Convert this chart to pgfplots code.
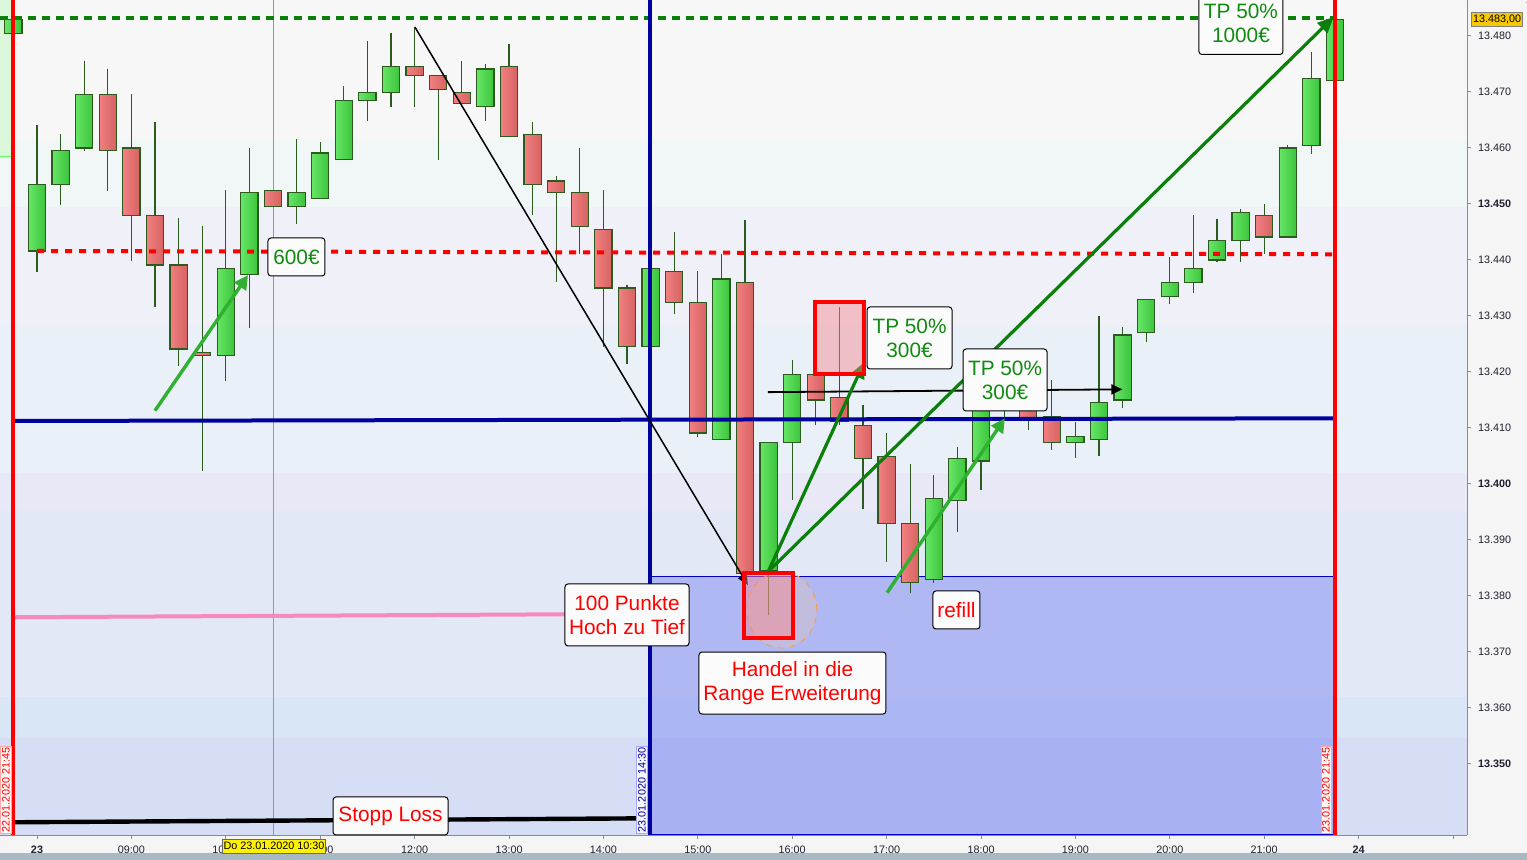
\documentclass[border=0pt]{standalone}
\usepackage{pgfplots}
\pgfplotsset{compat=1.18}
\usepackage{pgfplotstable}
\usepgfplotslibrary{statistics}
\usetikzlibrary{arrows.meta}
\usepackage{fontspec}
\setmainfont{Liberation Sans}

\definecolor{pagebg}{HTML}{F5F5F5}
\definecolor{scrollbar}{HTML}{A9B9C1}
\definecolor{axisgray}{HTML}{7890A0}
\definecolor{ticktext}{HTML}{202030}
\definecolor{bgA}{HTML}{F7F7F8}
\definecolor{bgB}{HTML}{F0F7F6}
\definecolor{bgC}{HTML}{F0F0F8}
\definecolor{bgD}{HTML}{EAF0F8}
\definecolor{bgE}{HTML}{E8E8F6}
\definecolor{bgF}{HTML}{E2E8F6}
\definecolor{bgG}{HTML}{D9E6F6}
\definecolor{bgH}{HTML}{D6DEF6}
\definecolor{prevday}{HTML}{DAF7DA}
\definecolor{rangeblue}{HTML}{4C58F0}
\definecolor{candleedge}{HTML}{2D5A1E}
\definecolor{upL}{HTML}{66E666}
\definecolor{upR}{HTML}{3CC43C}
\definecolor{dnL}{HTML}{F28080}
\definecolor{dnR}{HTML}{D66262}
\definecolor{tpgreen}{HTML}{0A7F0A}
\definecolor{lightarrow}{HTML}{30B030}
\definecolor{navy}{HTML}{00009E}
\definecolor{pinkline}{HTML}{F888C0}
\definecolor{boxpink}{HTML}{F7858D}
\definecolor{cursor}{HTML}{7898E8}
\definecolor{notegreen}{HTML}{108A10}
\definecolor{gold}{HTML}{F8C800}

\pgfplotsset{
  candle/.style={draw=candleedge, line width=0.6pt, solid,
    boxplot/box extend=0.183, boxplot/whisker extend=0,
    boxplot/every median/.style={draw=none}},
  up body/.style={boxplot/every box/.style={left color=upL, right color=upR}},
  down body/.style={boxplot/every box/.style={left color=dnL, right color=dnR}},
}
\tikzset{
  note/.style={draw=black, line width=0.5pt, fill=white!97!gray, rounded corners=1.5pt,
    align=center, inner sep=0pt, font=\fontsize{10.4}{12}\selectfont},
  stamp/.style={rotate=90, inner sep=0.7pt, font=\fontsize{5.4}{6}\selectfont},
}

% 15-minute candles, time in hours
\pgfplotstableread{
t o h l c
7.75 13480.5 13483 13480.5 13483
8.00 13441.6 13464.1 13437.9 13453.5
8.25 13453.5 13462.5 13449.9 13459.6
8.50 13460 13475.5 13459.5 13469.6
10.00 13423 13452.5 13418.4 13438.5
10.25 13437.4 13460 13427.9 13452.1
10.75 13449.6 13461.6 13446.5 13452.1
11.00 13451 13461.1 13451 13459.1
11.25 13458 13471.1 13458 13468.5
11.50 13468.5 13479.1 13464.9 13469.9
11.75 13469.9 13480.5 13467.4 13474.6
12.75 13467.4 13475 13464.9 13474.1
14.50 13424.6 13438.5 13424.6 13438.5
15.25 13408 13441 13408 13436.6
15.75 13384.6 13407.4 13376.6 13407.4
16.00 13407.4 13422.1 13397.1 13419.6
17.50 13383 13401.6 13382.3 13397.4
17.75 13397.1 13406.6 13391.5 13404.6
18.00 13404.1 13418 13399 13416
18.25 13416 13421 13411.4 13419
19.00 13407.4 13411.1 13404.6 13408.5
19.25 13408 13430 13405 13414.6
19.50 13415 13428 13413.5 13426.6
19.75 13427.1 13433 13425.4 13433
20.00 13433.5 13440.5 13432.1 13436
20.25 13436 13448 13434.1 13438.5
20.50 13440 13447.4 13439.6 13443.5
20.75 13443.5 13449.1 13439.6 13448.5
21.25 13444.1 13460.5 13444.1 13460
21.50 13460.5 13477.1 13459 13472.4
21.75 13472.1 13483 13472.1 13483
}\upcandles

\pgfplotstableread{
t o h l c
8.75 13469.6 13474.1 13452.4 13459.6
9.00 13460 13469.6 13439.9 13448
9.25 13448 13464.6 13431.6 13439.1
9.50 13439.1 13447.5 13421 13424.1
9.75 13423.5 13446.1 13402.4 13423
10.50 13452.4 13452.5 13449.5 13449.6
12.00 13474.6 13481.6 13467.4 13473
12.25 13473 13473 13457.9 13470.5
12.50 13469.9 13475.5 13467.4 13468
13.00 13474.6 13478.6 13462.1 13462.1
13.25 13462.4 13464.6 13448 13453.5
13.50 13454.1 13455 13436 13452.1
13.75 13452.1 13460 13441 13446
14.00 13445.5 13452.5 13424.5 13435
14.25 13435 13435.5 13421.5 13424.6
14.75 13438 13445 13430.4 13432.4
15.00 13432.4 13438 13408.4 13409.1
15.50 13436 13447.1 13383 13384
16.25 13419.6 13419.6 13410.5 13415
16.50 13415.5 13431.6 13410.5 13411.1
16.75 13410.5 13414.1 13395.5 13404.6
17.00 13404.9 13409.1 13386 13393
17.25 13393 13403.5 13380.5 13382.4
18.50 13418 13420 13409.6 13411.7
18.75 13412.1 13418.6 13406 13407.4
21.00 13448 13450 13441 13444.1
}\downcandles

\begin{document}
\begin{tikzpicture}
\useasboundingbox (0,-12.5pt) rectangle (763.5pt,417.5pt);
\fill[pagebg] (0,-12.5pt) rectangle (763.5pt,417.5pt);
\fill[scrollbar] (0,-12.5pt) rectangle (763.5pt,-9pt);

\pgfplotstablegetrowsof{\upcandles}\pgfmathtruncatemacro\nup{\pgfplotsretval-1}
\pgfplotstablegetrowsof{\downcandles}\pgfmathtruncatemacro\ndown{\pgfplotsretval-1}

\begin{axis}[
  at={(0,0)}, anchor=south west,
  scale only axis, width=733.5pt, height=417.5pt,
  xmin=7.608, xmax=23.148, ymin=13337.32, ymax=13486.43,
  axis x line=bottom, axis y line=right,
  axis line style={draw=axisgray, line width=0.6pt, -},
  xtick={8,9,...,23},
  xticklabels={\textbf{23},09:00,10:00,11:00,12:00,13:00,14:00,15:00,16:00,17:00,18:00,19:00,20:00,21:00,\textbf{24},{}},
  ytick={13350,13360,...,13480},
  yticklabels={\textbf{13.350},13.360,13.370,13.380,13.390,\textbf{13.400},13.410,13.420,13.430,13.440,\textbf{13.450},13.460,13.470,13.480},
  tick align=outside, major tick length=2pt,
  tick style={draw=axisgray, line width=0.5pt},
  ticklabel style={font=\fontsize{5.4}{6}\selectfont, text=ticktext},
  clip=false,
  boxplot/draw direction=y,
]

% background bands
\addplot[draw=none, fill=bgA] coordinates {(7.608,13461.66) (23.148,13461.66) (23.148,13486.43) (7.608,13486.43)} -- cycle;
\addplot[draw=none, fill=bgB] coordinates {(7.608,13449.41) (23.148,13449.41) (23.148,13461.66) (7.608,13461.66)} -- cycle;
\addplot[draw=none, fill=bgC] coordinates {(7.608,13428.43) (23.148,13428.43) (23.148,13449.41) (7.608,13449.41)} -- cycle;
\addplot[draw=none, fill=bgD] coordinates {(7.608,13402.05) (23.148,13402.05) (23.148,13428.43) (7.608,13428.43)} -- cycle;
\addplot[draw=none, fill=bgE] coordinates {(7.608,13395.2) (23.148,13395.2) (23.148,13402.05) (7.608,13402.05)} -- cycle;
\addplot[draw=none, fill=bgF] coordinates {(7.608,13361.88) (23.148,13361.88) (23.148,13395.2) (7.608,13395.2)} -- cycle;
\addplot[draw=none, fill=bgG] coordinates {(7.608,13354.71) (23.148,13354.71) (23.148,13361.88) (7.608,13361.88)} -- cycle;
\addplot[draw=none, fill=bgH] coordinates {(7.608,13337.32) (23.148,13337.32) (23.148,13354.71) (7.608,13354.71)} -- cycle;
\addplot[draw=none, fill=prevday] coordinates {(7.608,13458.4) (7.746,13458.4) (7.746,13486.43) (7.608,13486.43)} -- cycle;
\addplot[draw=green!60!white, line width=0.5pt] coordinates {(7.608,13458.4) (7.746,13458.4)};

% range extension area
\addplot[draw=blue!80!black, line width=0.5pt, fill=rangeblue, fill opacity=0.33] coordinates {(14.492,13383.39) (21.747,13383.39) (21.747,13337.32) (14.492,13337.32)} -- cycle;

% cursor line
\addplot[cursor, line width=0.5pt] coordinates {(10.5,13337.32) (10.5,13486.43)};

% candles
\pgfplotsinvokeforeach{0,...,\nup}{
  \pgfplotstablegetelem{#1}{t}\of\upcandles\let\candT\pgfplotsretval
  \pgfplotstablegetelem{#1}{o}\of\upcandles\let\candO\pgfplotsretval
  \pgfplotstablegetelem{#1}{h}\of\upcandles\let\candH\pgfplotsretval
  \pgfplotstablegetelem{#1}{l}\of\upcandles\let\candL\pgfplotsretval
  \pgfplotstablegetelem{#1}{c}\of\upcandles\let\candC\pgfplotsretval
  \edef\candleplot{\noexpand\addplot[candle, up body, boxplot prepared={draw position=\candT, lower whisker=\candL, lower quartile=\candO, median=\candO, upper quartile=\candC, upper whisker=\candH}] coordinates {};}
  \candleplot
}
\pgfplotsinvokeforeach{0,...,\ndown}{
  \pgfplotstablegetelem{#1}{t}\of\downcandles\let\candT\pgfplotsretval
  \pgfplotstablegetelem{#1}{o}\of\downcandles\let\candO\pgfplotsretval
  \pgfplotstablegetelem{#1}{h}\of\downcandles\let\candH\pgfplotsretval
  \pgfplotstablegetelem{#1}{l}\of\downcandles\let\candL\pgfplotsretval
  \pgfplotstablegetelem{#1}{c}\of\downcandles\let\candC\pgfplotsretval
  \edef\candleplot{\noexpand\addplot[candle, down body, boxplot prepared={draw position=\candT, lower whisker=\candL, lower quartile=\candC, median=\candC, upper quartile=\candO, upper whisker=\candH}] coordinates {};}
  \candleplot
}

% horizontal levels
\addplot[tpgreen, line width=1.8pt, dash pattern=on 4pt off 3pt] coordinates {(7.608,13483.2) (21.747,13483.2)};
\addplot[red, line width=2pt, dash pattern=on 3.5pt off 3.5pt] coordinates {(8.0,13441.61) (21.73,13441.02)};
\addplot[navy, line width=2pt] coordinates {(7.746,13411.25) (21.747,13411.73)};
\addplot[pinkline, line width=2pt] coordinates {(7.746,13376.2) (13.592,13376.73)};
\addplot[black, line width=2.2pt] coordinates {(7.746,13339.59) (14.492,13340.3)};

% vertical markers
\addplot[red, line width=2pt] coordinates {(7.746,13337.32) (7.746,13486.43)};
\addplot[red, line width=2pt] coordinates {(21.747,13337.32) (21.747,13486.43)};
\addplot[navy, line width=1.7pt] coordinates {(14.492,13337.32) (14.492,13486.43)};

% drawn arrows
\addplot[black, line width=0.75pt, -{Triangle[length=5.5pt,width=5pt]}] coordinates {(12.003,13481.6) (15.53,13381.96)};
\addplot[black, line width=0.9pt, -{Triangle[length=5.5pt,width=5pt]}] coordinates {(15.742,13416.4) (19.498,13416.9)};
\addplot[lightarrow, line width=1.7pt, -{Triangle[length=7pt,width=7pt]}] coordinates {(9.25,13413.1) (10.235,13437.3)};
\addplot[lightarrow, line width=1.7pt, -{Triangle[length=7pt,width=7pt]}] coordinates {(17.005,13380.59) (18.252,13411.73)};
\addplot[tpgreen, line width=1.6pt, -{Triangle[length=8pt,width=7pt]}] coordinates {(15.745,13384.34) (16.762,13421.73)};
\addplot[tpgreen, line width=1.6pt, -{Triangle[length=8pt,width=7pt]}] coordinates {(15.745,13384.34) (21.736,13483.4)};

% entry and target boxes
\draw[draw=orange!80, line width=0.4pt, dashed, fill=orange!40!white, fill opacity=0.25] (axis cs:15.89,13377.5) ellipse [x radius=17.5pt, y radius=19pt];
\addplot[draw=red, line width=2pt, fill=boxpink, fill opacity=0.45] coordinates {(15.491,13384.16) (16.003,13384.16) (16.003,13372.45) (15.491,13372.45)} -- cycle;
\addplot[draw=red, line width=2pt, fill=boxpink, fill opacity=0.45] coordinates {(16.24,13432.55) (16.76,13432.55) (16.76,13419.64) (16.24,13419.64)} -- cycle;

% notes
\node[note, text=notegreen, minimum width=28.5pt, minimum height=19pt] at (rel axis cs:0.2021,0.6922) {600€};
\node[note, text=notegreen, minimum width=42pt, minimum height=31pt] at (rel axis cs:0.8459,0.9719) {TP 50\%\\1000€};
\node[note, text=notegreen, minimum width=42.5pt, minimum height=31pt] at (rel axis cs:0.6200,0.5952) {TP 50\%\\300€};
\node[note, text=notegreen, minimum width=42pt, minimum height=31pt] at (rel axis cs:0.6851,0.5449) {TP 50\%\\300€};
\node[note, text=red, minimum width=62pt, minimum height=31pt] at (rel axis cs:0.4274,0.2635) {100 Punkte\\Hoch zu Tief};
\node[note, text=red, minimum width=93.5pt, minimum height=31pt] at (rel axis cs:0.5402,0.1820) {Handel in die\\Range Erweiterung};
\node[note, text=red, minimum width=23.5pt, minimum height=19pt] at (rel axis cs:0.6520,0.2695) {refill};
\node[note, text=red, minimum width=57.5pt, minimum height=19pt] at (rel axis cs:0.2662,0.0228) {Stopp Loss};

% time stamps and price marker
\node[stamp, text=red, fill=red!4!white, draw=red!35!white, line width=0.3pt] at (rel axis cs:0.0041,0.0539) {22.01.2020 21:45};
\node[stamp, text=navy, fill=blue!4!white, draw=blue!35!white, line width=0.3pt] at (rel axis cs:0.4376,0.0539) {23.01.2020 14:30};
\node[stamp, text=red, fill=red!4!white, draw=red!35!white, line width=0.3pt] at (rel axis cs:0.9039,0.0539) {23.01.2020 21:45};
\node[fill=yellow, draw=black!60, line width=0.3pt, inner sep=0.6pt, minimum width=51.5pt, minimum height=7pt, font=\fontsize{5.4}{6}\selectfont] at (rel axis cs:0.1868,-0.0132) {Do 23.01.2020 10:30};
\node[fill=gold, draw=black!50, line width=0.3pt, inner sep=0.6pt, minimum width=25.5pt, minimum height=7pt, font=\fontsize{5.4}{6}\selectfont] at (rel axis cs:1.0205,0.9772) {13.483,00};
\end{axis}
\end{tikzpicture}
\end{document}
